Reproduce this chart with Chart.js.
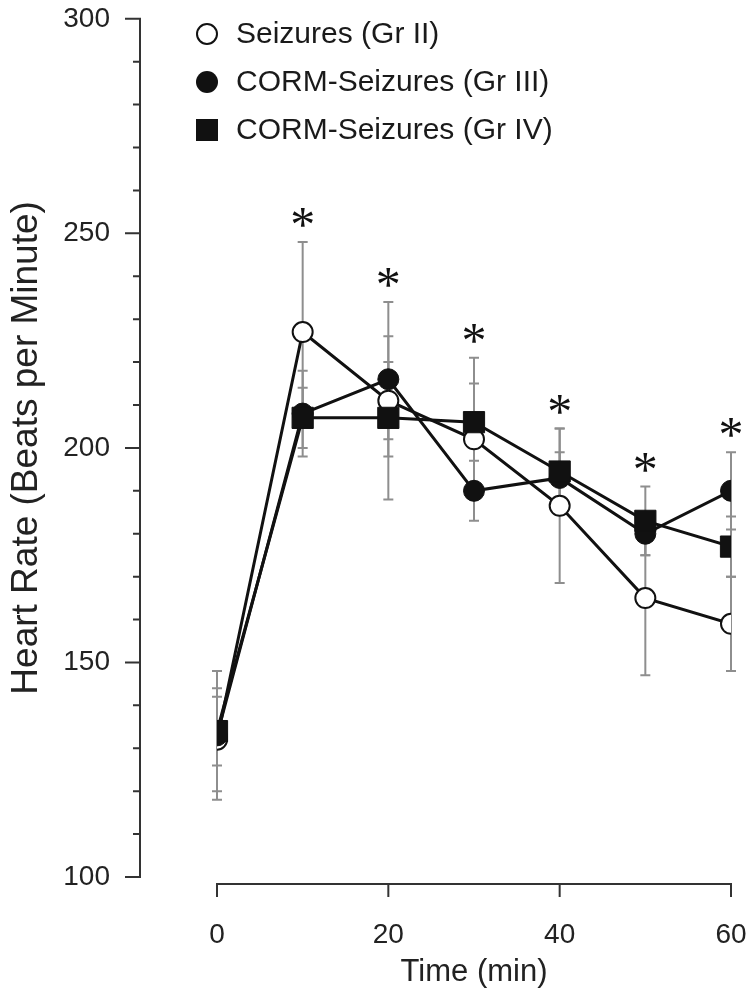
<!DOCTYPE html>
<html><head><meta charset="utf-8">
<script src="https://cdn.jsdelivr.net/npm/chart.js@4.4.1/dist/chart.umd.min.js"></script>
<style>html,body{margin:0;padding:0;background:#fff;}</style>
</head><body>
<canvas id="c" width="751" height="999" style="display:block;width:751px;height:999px"></canvas>
<script>
// ---- data ----
const times = [0, 10, 20, 30, 40, 50, 60];
const grII = [132, 227, 211, 202, 186.5, 165, 159];
const grIIsd = [12, 21, 9, 13, 18, 18, 11];
const grIII = [133, 208, 216, 190, 193, 180, 190];
const grIIIsd = [15, 10, 18, 7, 6, 5, 9];
const grIV = [134, 207, 207, 206, 194.5, 183, 177];
const grIVsd = [8, 7, 19, 15, 10, 8, 7];
const sigTimes = [10, 20, 30, 40, 50, 60];
const xTickValues = [0, 20, 40, 60];
const yMajorTicks = [100, 150, 200, 250, 300];
const seriesNames = ['Seizures (Gr II)', 'CORM-Seizures (Gr III)', 'CORM-Seizures (Gr IV)'];

const FONT = '"Liberation Sans", Arial, Helvetica, sans-serif';
const series = [
  {values: grII, sd: grIIsd},
  {values: grIII, sd: grIIIsd},
  {values: grIV, sd: grIVsd}
];
const toXY = v => times.map((t, i) => ({x: t, y: v[i]}));

const plugin = {
  id: 'custom',
  beforeDatasetsDraw(chart) {
    const {ctx, scales: {x, y}} = chart;
    ctx.save();
    ctx.strokeStyle = '#8e8e8e';
    ctx.lineWidth = 2;
    series.forEach(s => {
      times.forEach((t, i) => {
        const px = x.getPixelForValue(t);
        const top = y.getPixelForValue(s.values[i] + s.sd[i]);
        const bot = y.getPixelForValue(s.values[i] - s.sd[i]);
        ctx.beginPath();
        ctx.moveTo(px, top); ctx.lineTo(px, bot);
        ctx.moveTo(px - 5, top); ctx.lineTo(px + 5, top);
        ctx.moveTo(px - 5, bot); ctx.lineTo(px + 5, bot);
        ctx.stroke();
      });
    });
    ctx.restore();
  },
  afterDraw(chart) {
    const {ctx, chartArea: a, scales: {x, y}} = chart;
    ctx.save();
    // y axis line + ticks
    const ax = a.left - 77;
    ctx.strokeStyle = '#333';
    ctx.lineWidth = 2;
    ctx.beginPath();
    ctx.moveTo(ax, y.getPixelForValue(300));
    ctx.lineTo(ax, y.getPixelForValue(100));
    for (let v = 100; v <= 300; v += 10) {
      const py = y.getPixelForValue(v);
      const len = yMajorTicks.includes(v) ? 15 : 7;
      ctx.moveTo(ax + 1, py); ctx.lineTo(ax - len, py);
    }
    ctx.stroke();
    // x axis line + ticks
    const ay = a.bottom + 7;
    ctx.beginPath();
    ctx.moveTo(x.getPixelForValue(0), ay);
    ctx.lineTo(x.getPixelForValue(60), ay);
    xTickValues.forEach(v => {
      const px = x.getPixelForValue(v);
      ctx.moveTo(px, ay - 1); ctx.lineTo(px, ay + 13);
    });
    ctx.stroke();
    // asterisks (significance marks)
    ctx.fillStyle = '#111';
    ctx.font = '50px "Liberation Serif", "DejaVu Serif", serif';
    ctx.textAlign = 'center';
    ctx.textBaseline = 'middle';
    sigTimes.forEach(t => {
      const i = times.indexOf(t);
      const maxUp = Math.max(...series.map(s => s.values[i] + s.sd[i]));
      const px = x.getPixelForValue(t);
      const py = y.getPixelForValue(maxUp) - 14;
      ctx.fillText('*', px, py);
    });
    // legend
    const lx = 207, rows = [34, 82, 130];
    ctx.font = '30px ' + FONT;
    ctx.textAlign = 'left';
    ctx.textBaseline = 'middle';
    rows.forEach((ry, k) => {
      ctx.lineWidth = 2;
      ctx.strokeStyle = '#111';
      ctx.fillStyle = '#111';
      if (k === 0) {
        ctx.beginPath(); ctx.arc(lx, ry, 10, 0, Math.PI * 2);
        ctx.fillStyle = '#fff'; ctx.fill(); ctx.stroke();
      } else if (k === 1) {
        ctx.beginPath(); ctx.arc(lx, ry, 11, 0, Math.PI * 2); ctx.fill();
      } else {
        ctx.fillRect(lx - 11, ry - 11, 22, 22);
      }
      ctx.fillStyle = '#1a1a1a';
      ctx.fillText(seriesNames[k], lx + 29, ry + 1);
    });
    ctx.restore();
  }
};

new Chart(document.getElementById('c'), {
  type: 'line',
  data: {
    datasets: [
      {label: seriesNames[2], data: toXY(grIV), order: 0,
       borderColor: '#111', borderWidth: 3, pointStyle: 'rect', pointRadius: 15,
       pointBackgroundColor: '#111', pointBorderColor: '#111', pointBorderWidth: 1, tension: 0},
      {label: seriesNames[1], data: toXY(grIII), order: 1,
       borderColor: '#111', borderWidth: 3, pointStyle: 'circle', pointRadius: 10.5,
       pointBackgroundColor: '#111', pointBorderColor: '#111', pointBorderWidth: 1, tension: 0},
      {label: seriesNames[0], data: toXY(grII), order: 2,
       borderColor: '#111', borderWidth: 3, pointStyle: 'circle', pointRadius: 10,
       pointBackgroundColor: '#fff', pointBorderColor: '#111', pointBorderWidth: 2, tension: 0}
    ]
  },
  options: {
    responsive: false,
    animation: false,
    events: [],
    layout: {padding: {left: 0, right: 20, top: 18, bottom: 4}},
    plugins: {legend: {display: false}, tooltip: {enabled: false}},
    scales: {
      x: {
        type: 'linear', min: 0, max: 60,
        grid: {display: false, drawTicks: true, tickLength: 40}, border: {display: false},
        ticks: {stepSize: 20, padding: 1, color: '#222', font: {family: FONT, size: 28}},
        title: {display: true, text: 'Time (min)', color: '#222', font: {family: FONT, size: 31}, padding: {top: 0, bottom: 4}},
        afterFit(s) { s.height = 118; }
      },
      y: {
        min: 100, max: 300,
        grid: {display: false, drawTicks: true, tickLength: 105}, border: {display: false},
        ticks: {stepSize: 10, autoSkip: false, padding: 2, color: '#222', font: {family: FONT, size: 28},
          callback: v => (yMajorTicks.includes(v) ? String(v) : '')},
        title: {display: true, text: 'Heart Rate (Beats per Minute)', color: '#222', font: {family: FONT, size: 37}, padding: {top: 5, bottom: 0}},
        afterFit(s) { s.width = 217; }
      }
    }
  },
  plugins: [plugin]
});
</script>
</body></html>
